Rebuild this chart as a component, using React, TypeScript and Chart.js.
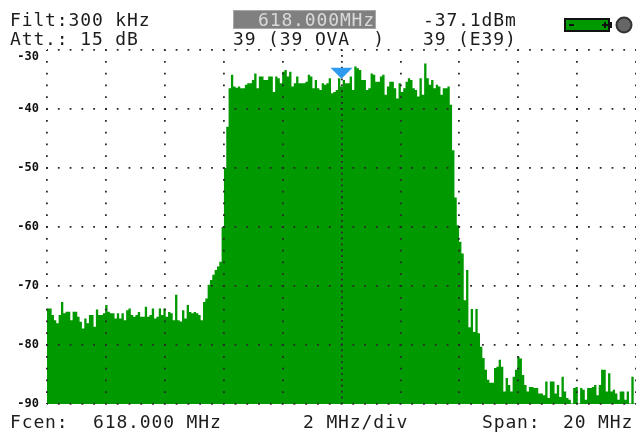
import React, { useEffect, useRef } from "react";
import { Chart, registerables } from "chart.js";

Chart.register(...registerables);

const leftFloor = [
  -73.8, -73.8, -74.9, -75.8, -76.3, -74.9, -72.7, -74.6, -74.35, -74.35, -75.8, -74.35, -74.35, -75.2, -76.05, -77.2,
  -75.5, -76.3, -74.9, -74.9, -76.9, -74, -74.9, -74.9, -74.6, -73.2, -74.35, -74.6, -74.6, -75.5, -74.6, -75.5, -74.6,
  -75.8, -74.1, -73.8, -74.9, -75.2, -74.9, -74.4, -75.2, -75.2, -73.5, -75.2, -74.9, -73.8, -75.5, -75.2, -73.8, -74.9,
  -73.8, -75.2, -74.4, -74.6, -75.8, -71.5, -75.8, -76, -74.1, -75.5, -73.2, -74.4, -74.6, -74.4, -74.6, -74.9, -75.8,
];
const skirtUp = [-72.7, -72.1, -69.8, -69, -68.1, -67.3, -66.7, -65.9, -60, -50, -43];
const plateau = [
  -36.5, -34.2, -36.2, -36.4, -36.2, -36.5, -36.5, -35.9, -35.65, -35.65, -35.1, -34, -36.5, -34.5, -34.5, -35.1,
  -35.1, -34.5, -34.5, -37.1, -34.5, -34.8, -35.65, -33.7, -33.4, -34.5, -33.7, -36.2, -35.65, -34.5, -35.65,
  -35.65, -35.65, -35.4, -34.2, -34.5, -36.5, -35.1, -36.5, -36.8, -35.65, -35.9, -35.65, -34.8, -37.35, -37.1,
  -36.8, -34.8, -36.2, -35.1, -35.65, -35.65, -34.5, -36.8, -32.8, -33.1, -33.4, -35.1, -35.1, -36.8, -36.5, -34,
  -34.2, -35.4, -35.4, -34.5, -34.2, -37.6, -36.2, -35.4, -35.4, -36.5, -38.2, -35.65, -37.1, -36.5, -35.4, -34.8,
  -35.1, -36.5, -36.8, -37.9, -34.8, -37.6, -32.3, -34.8, -35.9, -35.1, -36.5, -35.9, -36.2, -37.6, -36.5, -36.5,
  -36.2, -39.3,
];
const skirtDown = [
  -47, -55, -59.7, -62.5, -64.5, -72.4, -67.3, -77, -73.9, -77.8, -73.9, -78, -80.3, -82.2, -84.2, -85.9, -86.4,
  -86.4, -83.9, -83.7, -82.5,
];
const rightFloor = [
  -83.7, -87.9, -85.6, -86.8, -87.9, -85.4, -84.2, -82, -82.3, -85.1, -86.8, -87.9, -87.1, -87.1, -87.3, -87.3,
  -88.2, -88.2, -88.5, -86.2, -89, -86.2, -86.2, -88.2, -86.8, -88.8, -85.4, -87.9, -89, -89.3, -89.9, -87.3, -87.1,
  -89.9, -87.3, -87.6, -89.3, -87.3, -87.3, -87.1, -86.8, -88.5, -86.8, -84.2, -84.2, -87.9, -84.8, -87.9, -87.6,
  -88.2, -89.3, -87.9, -87.9, -89.3, -87.9, -89.9, -85.4, -89.9, -85.7,
];
const spectrum = [...leftFloor, ...skirtUp, ...plateau, ...skirtDown, ...rightFloor];

const freqStart = 608;
const freqEnd = 628;
const freqStep = 2;
const levelMin = -90;
const levelMax = -30;
const levelStep = 10;
const markerFreq = 618;
const markerLevel = -33;

const filtText = "Filt:300 kHz";
const attText = "Att.: 15 dB";
const centerReadout = "618.000MHz";
const channelText = "39 (39 OVA  )";
const levelText = "-37.1dBm";
const channelRight = "39 (E39)";
const fcenLabel = "Fcen:";
const fcenValue = "618.000 MHz";
const divText = "2 MHz/div";
const spanLabel = "Span:";
const spanValue = "20 MHz";

const GREEN = "#009900";
const MONO = '"DejaVu Sans Mono", monospace';

const overlay = {
  id: "overlay",
  afterDraw(chart: any) {
    const ctx = chart.ctx as any;
    ctx.save();
    // marker
    const mx = chart.scales.x.getPixelForValue(markerFreq);
    const my = chart.scales.y.getPixelForValue(markerLevel);
    ctx.fillStyle = "#2E9BF0";
    ctx.beginPath();
    ctx.moveTo(mx - 11, my);
    ctx.lineTo(mx + 11, my);
    ctx.lineTo(mx, my + 11);
    ctx.closePath();
    ctx.fill();

    // readout box
    ctx.fillStyle = "#808080";
    ctx.fillRect(233, 10, 143, 19);
    ctx.strokeStyle = "#a8a8a8";
    ctx.lineWidth = 1;
    ctx.strokeRect(233.5, 10.5, 142, 18);

    ctx.font = `18px ${MONO}`;
    ctx.letterSpacing = "0.86px";
    ctx.textBaseline = "alphabetic";
    ctx.textAlign = "left";
    const put = (t: string, x: number, y: number, c = "#1c1c1c") => {
      ctx.fillStyle = c;
      ctx.fillText(t, x, y);
    };
    put(filtText, 10, 26);
    put(attText, 10, 45);
    put(centerReadout, 258, 26, "#d9d9d9");
    put(channelText, 233, 45);
    put(levelText, 423, 26);
    put(channelRight, 423, 45);
    put(fcenLabel, 10, 428);
    put(fcenValue, 93, 428);
    put(divText, 303, 428);
    put(spanLabel, 482, 428);
    put(spanValue, 563, 428);

    // battery
    ctx.letterSpacing = "0px";
    ctx.fillStyle = GREEN;
    ctx.strokeStyle = "#111";
    ctx.lineWidth = 2;
    ctx.fillRect(565, 19, 44, 12);
    ctx.strokeRect(565, 19, 44, 12);
    ctx.fillStyle = "#111";
    ctx.fillRect(609, 22, 3, 6);
    ctx.fillRect(569, 24, 5, 2);
    ctx.fillRect(602, 24, 6, 2);
    ctx.fillRect(604, 22, 2, 6);
    // indicator
    ctx.fillStyle = "#666666";
    ctx.strokeStyle = "#333";
    ctx.beginPath();
    ctx.arc(624, 25, 7.5, 0, Math.PI * 2);
    ctx.fill();
    ctx.stroke();
    ctx.restore();
  },
};

export default function App() {
  const ref = useRef<HTMLCanvasElement>(null);
  useEffect(() => {
    const step = (freqEnd - freqStart) / (spectrum.length - 1);
    const chart = new Chart(ref.current!, {
      type: "line",
      data: {
        datasets: [
          {
            data: spectrum.map((v, i) => ({ x: freqStart + i * step, y: v })),
            stepped: true,
            fill: "start",
            backgroundColor: GREEN,
            borderColor: GREEN,
            borderWidth: 0,
            pointRadius: 0,
          },
        ],
      },
      options: {
        animation: false,
        responsive: false,
        layout: { padding: { top: 50, left: 0, right: 0, bottom: 0 } },
        plugins: { legend: { display: false }, tooltip: { enabled: false }, title: { display: false } },
        scales: {
          x: {
            type: "linear",
            min: freqStart,
            max: freqEnd,
            afterFit: (s: any) => {
              s.height = 28;
            },
            ticks: { stepSize: freqStep, display: false },
            border: {
              display: false,
              dash: (c: any) => (c.tick && c.tick.value === markerFreq ? [1.8, 4.09] : [1.8, 10]),
              dashOffset: 0.9,
            },
            grid: { color: "#2a2a2a", lineWidth: 1.8, drawTicks: false, z: 1 },
          },
          y: {
            min: levelMin,
            max: levelMax,
            afterFit: (s: any) => {
              s.width = 47;
            },
            ticks: {
              stepSize: levelStep,
              padding: 8,
              color: "#111",
              font: { family: "DejaVu Sans Mono", size: 12, weight: "bold" },
              callback: (v: number) => (v === levelMax ? ["", String(v)] : String(v)),
            },
            border: { display: false, dash: [1.8, 9.98], dashOffset: 0.9 },
            grid: { color: "#2a2a2a", lineWidth: 1.8, drawTicks: false, z: 1 },
          },
        },
      },
      plugins: [overlay],
    } as any);
    return () => chart.destroy();
  }, []);
  return (
    <canvas
      ref={ref}
      width={636}
      height={432}
      style={{ position: "fixed", left: 0, top: 0, width: 636, height: 432, background: "#fff" }}
    />
  );
}
